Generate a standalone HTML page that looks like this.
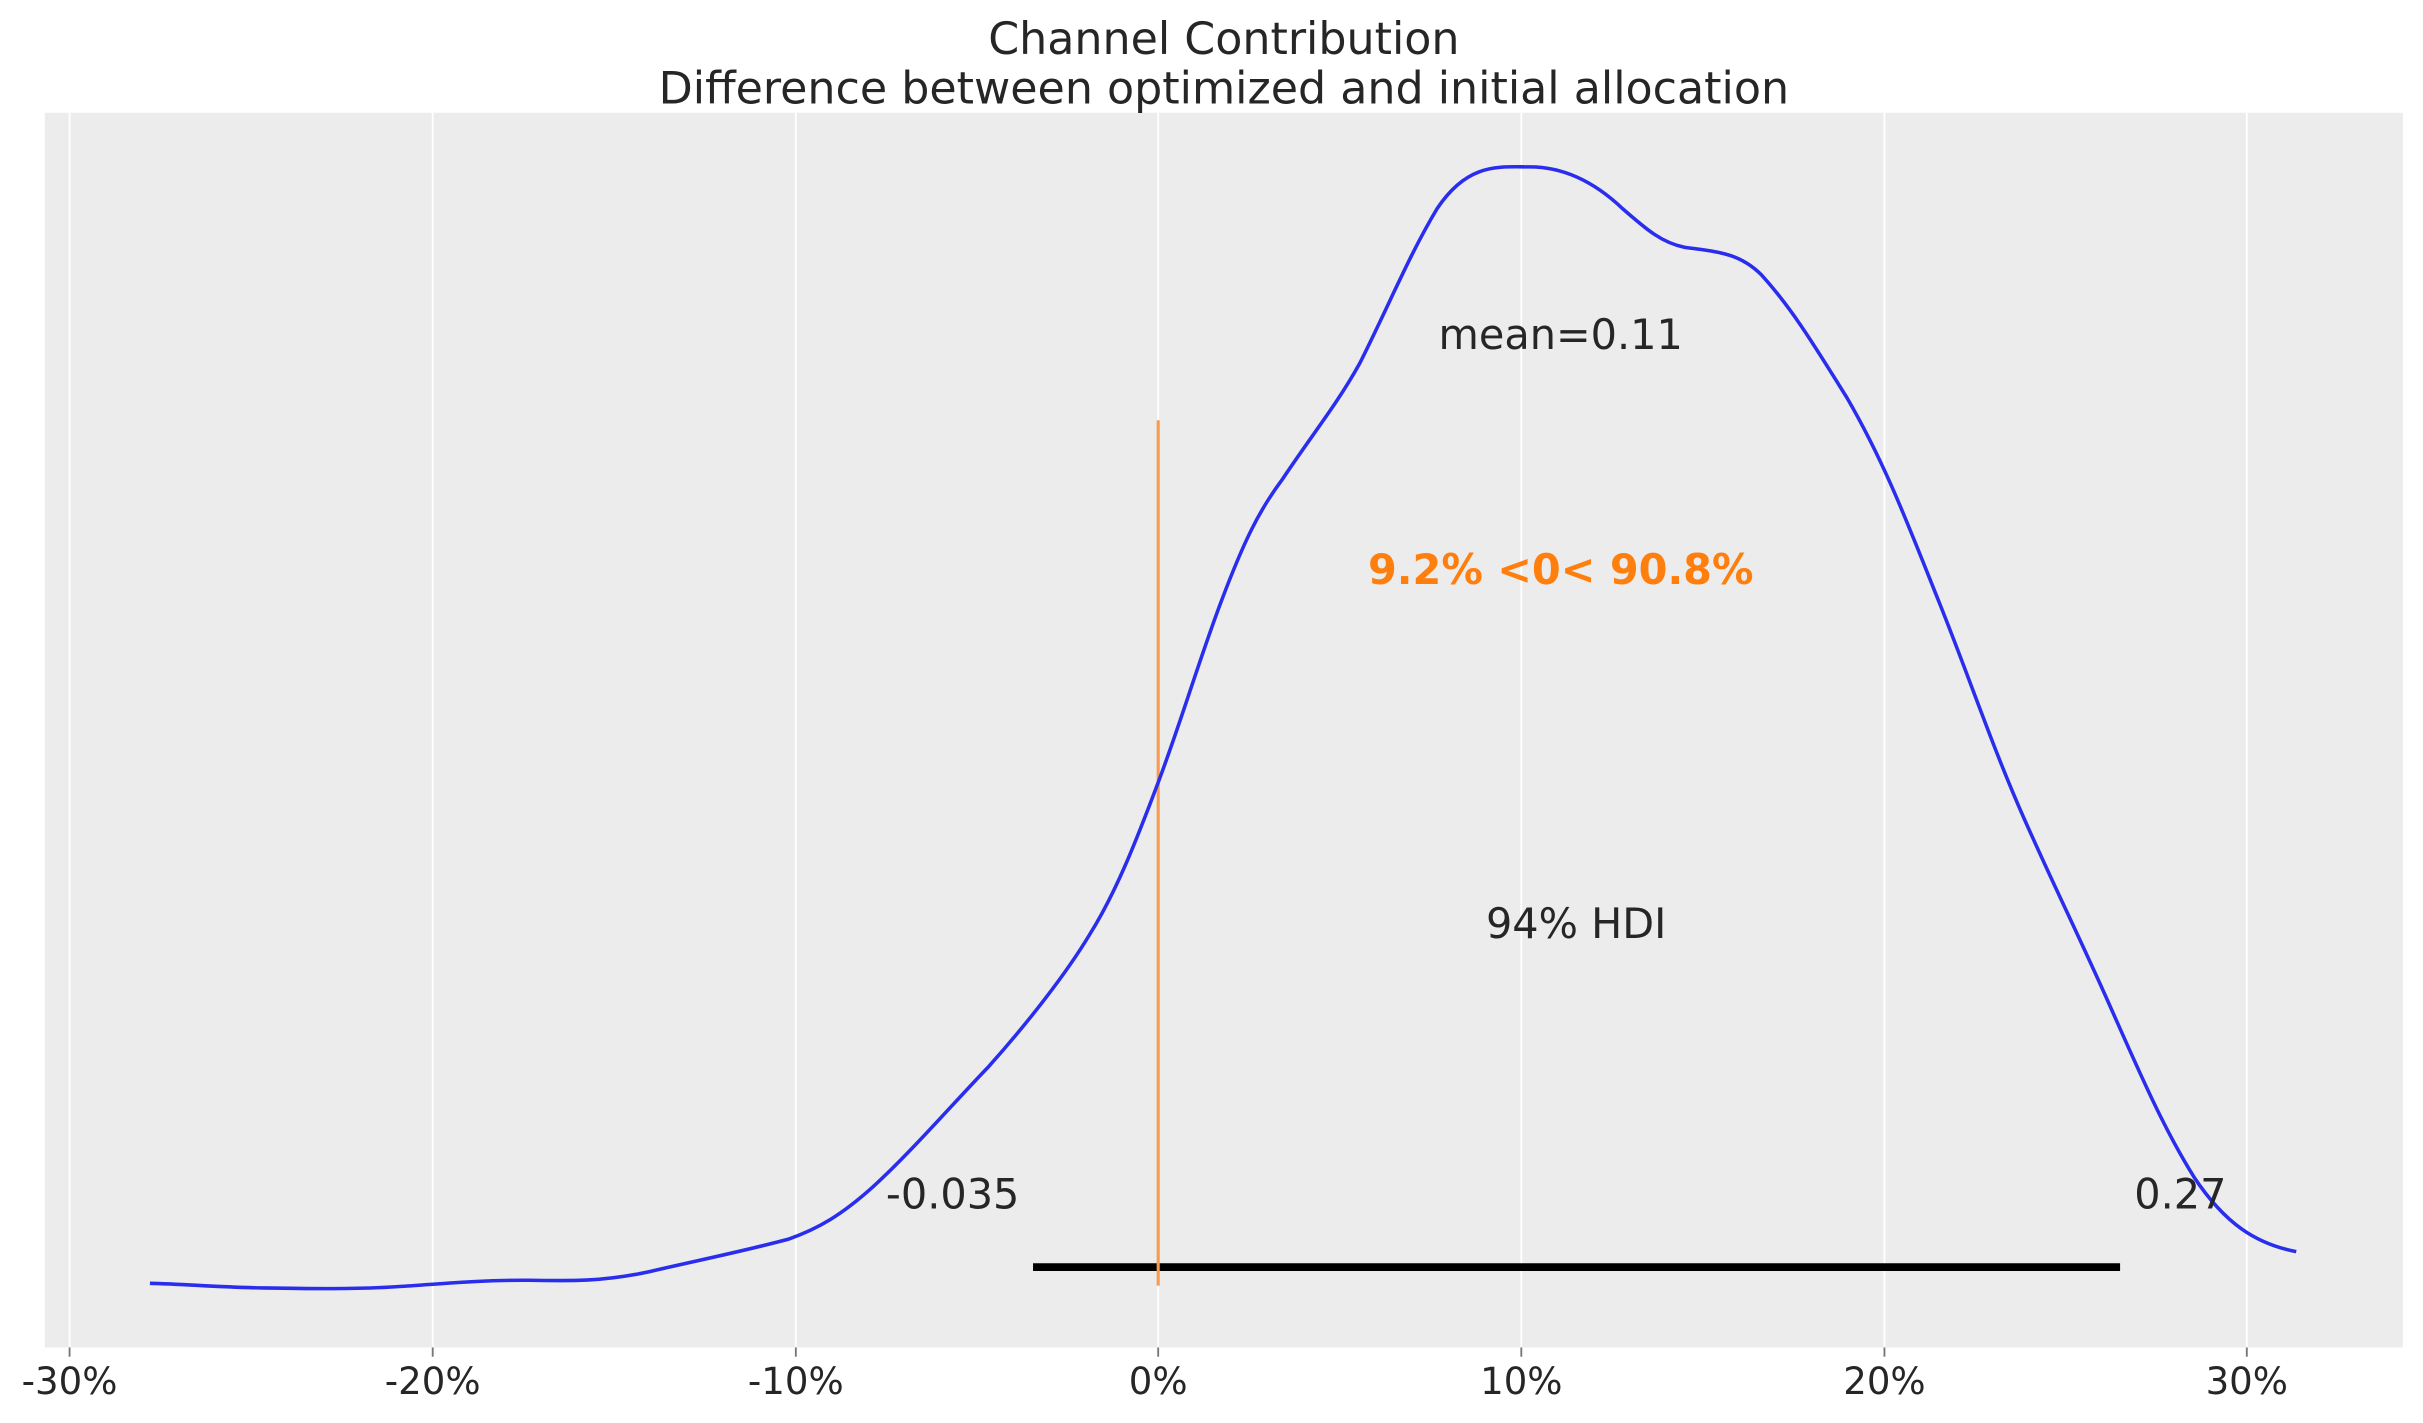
<!DOCTYPE html>
<html><head><meta charset="utf-8"><style>html,body{margin:0;padding:0;background:#fff}svg{display:block}</style></head>
<body>
<svg width="2423" height="1423" viewBox="0 0 1568 920.9" xmlns="http://www.w3.org/2000/svg" font-family="'DejaVu Sans','Liberation Sans',sans-serif">
<rect x="29" y="73" width="1526" height="799" fill="#ececec"/>
<g stroke="#ffffff" stroke-width="1.2">
<line x1="45" y1="73" x2="45" y2="872"/><line x1="280" y1="73" x2="280" y2="872"/><line x1="515" y1="73" x2="515" y2="872"/><line x1="749.5" y1="73" x2="749.5" y2="872"/><line x1="984.5" y1="73" x2="984.5" y2="872"/><line x1="1219.5" y1="73" x2="1219.5" y2="872"/><line x1="1454" y1="73" x2="1454" y2="872"/>
</g>
<g stroke="#777" stroke-width="1.2">
<line x1="45" y1="872" x2="45" y2="878"/><line x1="280" y1="872" x2="280" y2="878"/><line x1="515" y1="872" x2="515" y2="878"/><line x1="749.5" y1="872" x2="749.5" y2="878"/><line x1="984.5" y1="872" x2="984.5" y2="878"/><line x1="1219.5" y1="872" x2="1219.5" y2="878"/><line x1="1454" y1="872" x2="1454" y2="878"/>
</g>
<g font-size="24" fill="#262626" text-anchor="middle">
<text x="45" y="902">-30%</text><text x="280" y="902">-20%</text><text x="515" y="902">-10%</text><text x="749.5" y="902">0%</text><text x="984.5" y="902">10%</text><text x="1219.5" y="902">20%</text><text x="1454" y="902">30%</text>
</g>
<g font-size="28.7" fill="#262626" text-anchor="middle">
<text x="792" y="35">Channel Contribution</text>
<text x="792" y="67">Difference between optimized and initial allocation</text>
</g>
<line x1="668.5" y1="820" x2="1372" y2="820" stroke="#000" stroke-width="5"/>
<line x1="749.5" y1="272" x2="749.5" y2="832" stroke="#f99b4d" stroke-width="2"/>
<path d="M97,830.5 C120,831 140,833 170,833.5 C200,834 230,834.5 260,832.5 C290,830.5 310,828.5 340,828.5 C370,829 390,829.5 420,823 C450,816 480,810 510,802 C530,795 545,786 565,768 C590,745 615,716 640,690 C665,662 690,630 705,605 C722,578 735,545 750,505 C765,465 775,430 790,390 C805,350 815,330 830,310 C850,280 865,262 880,235 C900,195 912,165 930,135 C950,105 970,108 990,108 C1010,108 1030,116 1050,135 C1065,148 1075,157 1090,160 C1110,163 1125,163 1140,178 C1160,200 1175,225 1195,257 C1220,300 1235,340 1255,390 C1275,440 1290,485 1310,530 C1330,575 1345,605 1365,650 C1385,695 1400,730 1420,762 C1440,792 1460,805 1486,810" fill="none" stroke="#2a2eec" stroke-width="2.3"/>
<g font-size="26.8" fill="#262626" text-anchor="middle">
<text x="1010" y="226">mean=0.11</text>
<text x="1020" y="607">94% HDI</text>
<text x="616.5" y="782">-0.035</text>
<text x="1411" y="782">0.27</text>
</g>
<text x="1010" y="378" font-size="26.8" font-weight="bold" fill="#ff7f0e" text-anchor="middle">9.2% &lt;0&lt; 90.8%</text>
</svg>
</body></html>
